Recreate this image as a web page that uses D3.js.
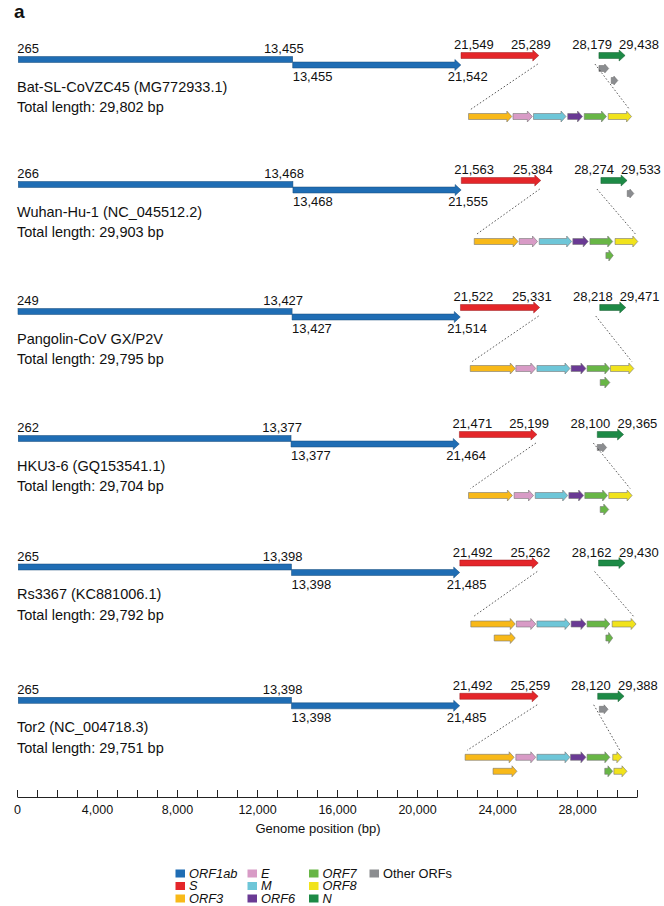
<!DOCTYPE html>
<html>
<head>
<meta charset="utf-8">
<script src="https://cdn.jsdelivr.net/npm/d3@7"></script>
<style>
  body { margin: 0; background: #fff; }
  svg { display: block; }
  text { font-family: "Liberation Sans", Arial, Helvetica, sans-serif; fill: #111; }
</style>
</head>
<body>
<div id="chart"></div>
<script>
// ---- genomes ----
const genomeNames = [
  "Bat-SL-CoVZC45 (MG772933.1)",
  "Wuhan-Hu-1 (NC_045512.2)",
  "Pangolin-CoV GX/P2V",
  "HKU3-6 (GQ153541.1)",
  "Rs3367 (KC881006.1)",
  "Tor2 (NC_004718.3)"
];
const genomeLengths = [29802, 29903, 29795, 29704, 29792, 29751];
const orf1abStart = [265, 266, 249, 262, 265, 265];
const orf1abShift = [13455, 13468, 13427, 13377, 13398, 13398];
const orf1abEnd = [21542, 21555, 21514, 21464, 21485, 21485];
const sStart = [21549, 21563, 21522, 21471, 21492, 21492];
const sEnd = [25289, 25384, 25331, 25199, 25262, 25259];
const nStart = [28179, 28274, 28218, 28100, 28162, 28120];
const nEnd = [29438, 29533, 29471, 29365, 29430, 29388];

// other ORFs around N: [start, end, track]
const otherOrfs = [
  [[28180, 28650, 0], [28770, 29090, 1]],
  [[29540, 29860, 0]],
  [],
  [[28100, 28550, 0]],
  [],
  [[28200, 28620, 0]]
];

// accessory / structural genes between S and N (expanded view): [gene, start, end, row]
const accessoryOrfs = [
  [["ORF3", 25290, 26050, 0], ["E", 26070, 26410, 0], ["M", 26430, 27000, 0],
   ["ORF6", 27030, 27290, 0], ["ORF7", 27320, 27710, 0], ["ORF8", 27740, 28150, 0]],
  [["ORF3", 25390, 26160, 0], ["E", 26180, 26500, 0], ["M", 26530, 27100, 0],
   ["ORF6", 27120, 27390, 0], ["ORF7", 27420, 27820, 0], ["ORF8", 27860, 28260, 0],
   ["ORF7", 27700, 27830, 1]],
  [["ORF3", 25320, 26110, 0], ["E", 26120, 26470, 0], ["M", 26490, 27070, 0],
   ["ORF6", 27090, 27350, 0], ["ORF7", 27370, 27770, 0], ["ORF8", 27780, 28190, 0],
   ["ORF7", 27600, 27770, 1]],
  [["ORF3", 25290, 26060, 0], ["E", 26090, 26430, 0], ["M", 26460, 27030, 0],
   ["ORF6", 27050, 27310, 0], ["ORF7", 27330, 27730, 0], ["ORF8", 27750, 28160, 0],
   ["ORF7", 27600, 27750, 1]],
  [["ORF3", 25330, 26110, 0], ["E", 26130, 26470, 0], ["M", 26490, 27070, 0],
   ["ORF6", 27090, 27350, 0], ["ORF7", 27370, 27770, 0], ["ORF8", 27810, 28230, 0],
   ["ORF3", 25740, 26110, 1], ["ORF7", 27700, 27820, 1]],
  [["ORF3", 25230, 26090, 0], ["E", 26120, 26470, 0], ["M", 26490, 27070, 0],
   ["ORF6", 27080, 27350, 0], ["ORF7", 27370, 27770, 0], ["ORF8", 27820, 27980, 0],
   ["ORF3", 25720, 26140, 1], ["ORF7", 27680, 27820, 1], ["ORF8", 27840, 28070, 1]]
];

// axis ticks
const axisMax = 31000;
const axisTicks = d3.range(0, axisMax + 1, 1000);
const axisLabelStep = 4000;

// legend
const legendKeys = ["ORF1ab", "S", "ORF3", "E", "M", "ORF6", "ORF7", "ORF8", "N", "Other ORFs"];
const geneColors = {
  "ORF1ab": "#1f6db4",
  "S": "#e4262a",
  "ORF3": "#f8b919",
  "E": "#d89bc6",
  "M": "#6ec6d8",
  "ORF6": "#6a3a94",
  "ORF7": "#68b646",
  "ORF8": "#f1e31c",
  "N": "#1d8a46",
  "Other ORFs": "#8b8d90"
};

// ---- layout ----
const W = 664, H = 906;
const rowY = [59.5, 184.5, 311.5, 438.5, 567, 700.3];
const axisY = 797;

const svg = d3.select("#chart").append("svg")
  .attr("width", W).attr("height", H)
  .attr("viewBox", `0 0 ${W} ${H}`);

// genome maps and the ruler below them
const x = d3.scaleLinear().domain([0, 30000]).range([12.8, 636.8]);
const xAxisScale = d3.scaleLinear().domain([0, axisMax]).range([17, 637]);
// expanded S–N region
const xi = d3.scaleLinear().domain([25000, 28500]).range([452, 651.5]);
const fmt = d3.format(",");

function arrowPath(x0, x1, yc, h, hh, len) {
  const w = x1 - x0;
  const hl = Math.min(len, w * 0.6);
  const xb = x1 - hl;
  return `M${x0},${yc - h / 2}H${xb}V${yc - hh / 2}L${x1},${yc}L${xb},${yc + hh / 2}V${yc + h / 2}H${x0}Z`;
}

function strokeOf(c) { return d3.color(c).darker(1.1).formatHex(); }

// panel letter
svg.append("text").attr("x", 14).attr("y", 18)
  .attr("font-size", 19).attr("font-weight", "bold").text("a");

genomeNames.forEach((name, i) => {
  const B = rowY[i];
  const g = svg.append("g").attr("class", "genome");
  const sY = B - 4;
  const seg2Y = B + 5.5;
  const insetY = B + 57;

  // ORF1ab, first segment (before the frameshift)
  g.append("rect")
    .attr("x", x(orf1abStart[i])).attr("y", B - 3)
    .attr("width", x(orf1abShift[i]) - x(orf1abStart[i])).attr("height", 6)
    .attr("fill", geneColors.ORF1ab).attr("stroke", strokeOf(geneColors.ORF1ab)).attr("stroke-width", 0.5);
  // ORF1ab, second segment
  g.append("path")
    .attr("d", arrowPath(x(orf1abShift[i]), x(orf1abEnd[i]), seg2Y, 6, 11, 6))
    .attr("fill", geneColors.ORF1ab).attr("stroke", strokeOf(geneColors.ORF1ab)).attr("stroke-width", 0.5);
  // S
  g.append("path")
    .attr("d", arrowPath(x(sStart[i]), x(sEnd[i]), sY, 6, 11, 6))
    .attr("fill", geneColors.S).attr("stroke", strokeOf(geneColors.S)).attr("stroke-width", 0.5);
  // N
  g.append("path")
    .attr("d", arrowPath(x(nStart[i]), x(nEnd[i]), sY, 6, 11, 6))
    .attr("fill", geneColors.N).attr("stroke", strokeOf(geneColors.N)).attr("stroke-width", 0.5);
  // other ORFs
  otherOrfs[i].forEach(([s, e, t]) => {
    g.append("path")
      .attr("d", arrowPath(x(s), x(e), B + 9 + t * 12, 6, 9, 4))
      .attr("fill", geneColors["Other ORFs"]).attr("stroke", "#666").attr("stroke-width", 0.5);
  });

  // position labels
  const lbl = (tx, ty, anchor, v) => g.append("text")
    .attr("x", tx).attr("y", ty).attr("text-anchor", anchor)
    .attr("font-size", 13).text(fmt(v));
  lbl(x(orf1abStart[i]) - 1, B - 6.5, "start", orf1abStart[i]);
  lbl(x(orf1abShift[i]) + 11, B - 6.5, "end", orf1abShift[i]);
  lbl(x(orf1abShift[i]), B + 21.5, "start", orf1abShift[i]);
  lbl(x(orf1abEnd[i]) - 13, B + 21.5, "start", orf1abEnd[i]);
  lbl(x(sStart[i]) - 7, sY - 6.5, "start", sStart[i]);
  lbl(x(sEnd[i]) + 12, sY - 6.5, "end", sEnd[i]);
  lbl(x(nStart[i]) + 13, sY - 6.5, "end", nStart[i]);
  lbl(x(nEnd[i]) - 6, sY - 6.5, "start", nEnd[i]);

  // genome name and length
  g.append("text").attr("x", 17).attr("y", B + 32).attr("font-size", 14.5).text(name);
  g.append("text").attr("x", 17).attr("y", B + 52.5).attr("font-size", 14.5)
    .text(`Total length: ${fmt(genomeLengths[i])} bp`);

  // expanded region between S and N
  const acc = accessoryOrfs[i];
  const row0 = acc.filter(d => d[3] === 0);
  const firstStart = d3.min(row0, d => d[1]);
  const lastEnd = d3.max(row0, d => d[2]);
  const rightFrom = Math.min(x(nStart[i]), ...otherOrfs[i].map(d => x(d[0]))) - 4;
  g.append("line")
    .attr("x1", x(sEnd[i]) - 1).attr("y1", B + 4.5)
    .attr("x2", xi(firstStart) + 2).attr("y2", insetY - 7)
    .attr("stroke", "#333").attr("stroke-width", 0.8).attr("stroke-dasharray", "1.6,2");
  g.append("line")
    .attr("x1", rightFrom).attr("y1", B + 4.5)
    .attr("x2", xi(lastEnd) - 2).attr("y2", insetY - 7)
    .attr("stroke", "#333").attr("stroke-width", 0.8).attr("stroke-dasharray", "1.6,2");

  g.selectAll("path.acc").data(acc).join("path")
    .attr("class", "acc")
    .attr("d", d => arrowPath(xi(d[1]), xi(d[2]), insetY + d[3] * 14, 6, 11, 5))
    .attr("fill", d => geneColors[d[0]])
    .attr("stroke", "#777").attr("stroke-width", 0.6);
});

// genome position ruler (ticks pointing up, labels below)
const axis = d3.axisBottom(xAxisScale)
  .tickValues(axisTicks)
  .tickSize(-7)
  .tickSizeOuter(0)
  .tickPadding(8)
  .tickFormat(d => (d % axisLabelStep === 0 && d < 30000) ? fmt(d) : "");
const ax = svg.append("g").attr("transform", `translate(0,${axisY})`).call(axis);
ax.select(".domain").attr("stroke", "#222").attr("stroke-width", 1);
ax.selectAll(".tick line").attr("stroke", "#222").attr("stroke-width", 1);
ax.selectAll(".tick text")
  .attr("font-family", "\"Liberation Sans\", Arial, sans-serif")
  .attr("font-size", 12.5).attr("fill", "#111").attr("dy", "0.71em");

svg.append("text").attr("x", 318).attr("y", axisY + 36)
  .attr("text-anchor", "middle").attr("font-size", 13).text("Genome position (bp)");

// legend
const legendColX = [175.5, 247.5, 309, 369.5];
const legendRowY = [873.5, 886, 898.5];
const leg = svg.append("g").selectAll("g").data(legendKeys).join("g")
  .attr("transform", (d, i) => `translate(${legendColX[Math.floor(i / 3)]},${legendRowY[i % 3]})`);
leg.append("rect").attr("x", 0).attr("y", -4).attr("width", 9.5).attr("height", 8)
  .attr("fill", d => geneColors[d]);
leg.append("text").attr("x", 13.5).attr("y", 4.4).attr("font-size", 12.8)
  .attr("font-style", d => d === "Other ORFs" ? "normal" : "italic")
  .text(d => d);
</script>
</body>
</html>
